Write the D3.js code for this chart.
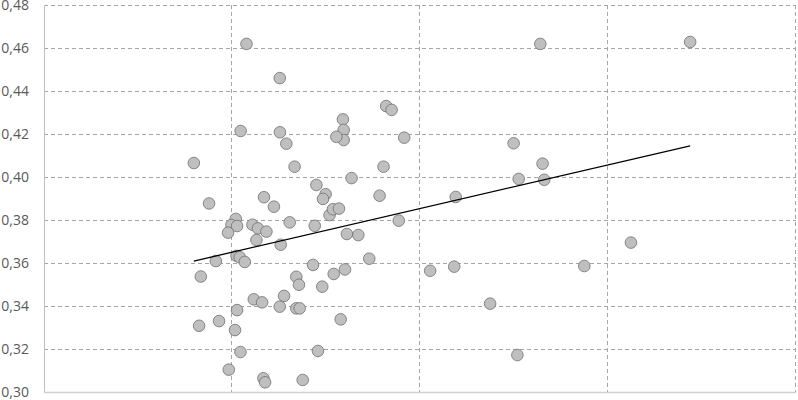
<!DOCTYPE html>
<html>
<head>
<meta charset="utf-8">
<script src="https://cdn.jsdelivr.net/npm/d3@7"></script>
<style>
  body { margin: 0; background: #fff; }
  .tick text { font-family: "Open Sans", sans-serif; font-size: 14px; fill: #595959; }
</style>
</head>
<body>
<div id="chart"></div>
<script>
// x / y values
var xs = [0.797, 1.077, 1.254, 2.640, 3.437, 0.878, 1.046, 1.255, 1.289, 1.590,
          1.594, 1.594, 1.555, 1.820, 1.849, 1.916, 1.333, 1.449, 1.498, 1.484,
          1.636, 1.806, 1.170, 1.223, 1.519, 1.537, 1.569, 1.785, 1.887, 1.020,
          0.997, 1.027, 0.979, 1.109, 1.138, 1.183, 1.130, 1.307, 1.440, 1.611,
          1.672, 1.259, 1.024, 1.041, 1.068, 0.914, 0.834, 1.431, 1.342, 1.356,
          1.541, 1.601, 1.730, 1.480, 1.277, 1.116, 1.160, 1.254, 1.342, 1.360,
          1.027, 0.931, 0.825, 1.578, 1.016, 1.045, 1.457, 0.983, 1.167, 1.176,
          1.376, 2.190, 2.054, 2.182, 2.498, 2.652, 2.525, 2.661, 2.373, 2.518,
          2.874, 3.122];
var ys = [0.4065, 0.4619, 0.4460, 0.4619, 0.4628, 0.3877, 0.4214, 0.4208, 0.4155, 0.4268,
          0.4219, 0.4172, 0.4187, 0.4330, 0.4312, 0.4183, 0.4048, 0.3963, 0.3920, 0.3898,
          0.3995, 0.4048, 0.3906, 0.3862, 0.3823, 0.3850, 0.3853, 0.3913, 0.3797, 0.3805,
          0.3777, 0.3772, 0.3741, 0.3778, 0.3761, 0.3746, 0.3707, 0.3789, 0.3773, 0.3735,
          0.3730, 0.3685, 0.3633, 0.3627, 0.3605, 0.3609, 0.3537, 0.3591, 0.3536, 0.3499,
          0.3549, 0.3570, 0.3620, 0.3490, 0.3447, 0.3431, 0.3417, 0.3397, 0.3389, 0.3389,
          0.3381, 0.3330, 0.3308, 0.3338, 0.3288, 0.3186, 0.3191, 0.3104, 0.3064, 0.3045,
          0.3056, 0.3907, 0.3564, 0.3583, 0.4157, 0.4062, 0.3991, 0.3987, 0.3411, 0.3172,
          0.3586, 0.3695];
var yTicks = [0.30, 0.32, 0.34, 0.36, 0.38, 0.40, 0.42, 0.44, 0.46, 0.48];
var xTicks = [1, 2, 3, 4];

var margin = { top: 5, right: 2, bottom: 8, left: 44 },
    width = 798 - margin.left - margin.right,
    height = 400 - margin.top - margin.bottom;

var svg = d3.select("#chart")
    .append("svg")
    .attr("width", 798)
    .attr("height", 400)
    .append("g")
    .attr("transform", "translate(" + margin.left + "," + margin.top + ")");

var x = d3.scaleLinear().domain([0, 4]).range([0, width]);
var y = d3.scaleLinear().domain([0.30, 0.48]).range([height, 0]);

// dashed grid
svg.append("g")
    .selectAll("line")
    .data(yTicks.slice(1))
    .enter()
    .append("line")
    .attr("x1", 0).attr("x2", width)
    .attr("y1", function(d) { return Math.round(y(d)) + 0.5; })
    .attr("y2", function(d) { return Math.round(y(d)) + 0.5; })
    .attr("stroke", "#a6a6a6")
    .attr("stroke-dasharray", "4,3");

svg.append("g")
    .selectAll("line")
    .data(xTicks)
    .enter()
    .append("line")
    .attr("y1", 0).attr("y2", height)
    .attr("x1", function(d) { return Math.round(x(d)) - 0.5; })
    .attr("x2", function(d) { return Math.round(x(d)) - 0.5; })
    .attr("stroke", "#a6a6a6")
    .attr("stroke-dasharray", "4,3");

// y axis labels
var yAxis = svg.append("g")
    .call(d3.axisLeft(y)
        .tickValues(yTicks)
        .tickSize(0)
        .tickPadding(15)
        .tickFormat(function(d) { return d3.format(".2f")(d).replace(".", ","); }));
yAxis.select(".domain").remove();

// solid axes lines
svg.append("line")
    .attr("x1", 0.5).attr("x2", 0.5)
    .attr("y1", 0).attr("y2", height)
    .attr("stroke", "#bfbfbf");
svg.append("line")
    .attr("x1", 0).attr("x2", width)
    .attr("y1", height + 0.5).attr("y2", height + 0.5)
    .attr("stroke", "#d0d0d0")
    .attr("stroke-width", 1.5);

// points
svg.append("g")
    .selectAll("circle")
    .data(xs)
    .enter()
    .append("circle")
    .attr("cx", function(d) { return x(d); })
    .attr("cy", function(d, i) { return y(ys[i]); })
    .attr("r", 5.8)
    .attr("fill", "#bfbfbf")
    .attr("stroke", "#6f6f6f")
    .attr("stroke-width", 0.8);

// linear trend line
var n = xs.length,
    mx = d3.mean(xs),
    my = d3.mean(ys);
var sxy = d3.sum(xs, function(d, i) { return (d - mx) * (ys[i] - my); }),
    sxx = d3.sum(xs, function(d) { return (d - mx) * (d - mx); });
var slope = sxy / sxx,
    icpt = my - slope * mx;
var ext = d3.extent(xs);

svg.append("line")
    .attr("x1", x(ext[0]))
    .attr("x2", x(ext[1]))
    .attr("y1", y(icpt + slope * ext[0]))
    .attr("y2", y(icpt + slope * ext[1]))
    .attr("stroke", "#000")
    .attr("stroke-width", 1.3);
</script>
</body>
</html>
